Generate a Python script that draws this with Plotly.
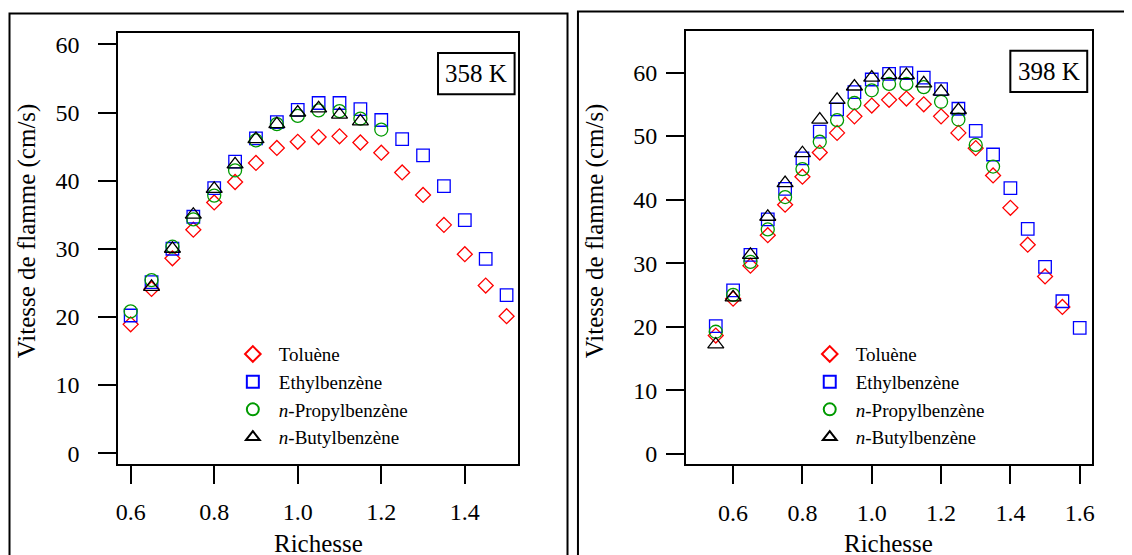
import plotly.graph_objects as go

# ---------------- data ----------------
phi_358 = [0.60, 0.65, 0.70, 0.75, 0.80, 0.85, 0.90, 0.95, 1.00, 1.05, 1.10, 1.15, 1.20, 1.25, 1.30, 1.35, 1.40, 1.45, 1.50]
tol_358 = [18.9, 24.1, 28.6, 32.8, 36.8, 39.8, 42.6, 44.8, 45.7, 46.4, 46.5, 45.6, 44.1, 41.2, 37.9, 33.5, 29.2, 24.6, 20.1]
eth_358 = [20.2, 25.1, 30.0, 34.7, 38.9, 42.8, 46.2, 48.6, 50.4, 51.4, 51.4, 50.5, 48.9, 46.1, 43.7, 39.2, 34.2, 28.5, 23.2]
phi_prop_358 = [0.60, 0.65, 0.70, 0.75, 0.80, 0.85, 0.90, 0.95, 1.00, 1.05, 1.10, 1.15, 1.20]
prop_358 = [20.8, 25.4, 30.3, 34.3, 37.8, 41.5, 45.9, 48.3, 49.5, 50.3, 50.2, 49.1, 47.5]
phi_but_358 = [0.65, 0.70, 0.75, 0.80, 0.85, 0.90, 0.95, 1.00, 1.05, 1.10, 1.15]
but_358 = [24.4, 30.0, 35.0, 38.8, 42.4, 46.1, 48.3, 50.0, 50.6, 49.7, 48.7]

phi_tol_398 = [0.55, 0.60, 0.65, 0.70, 0.75, 0.80, 0.85, 0.90, 0.95, 1.00, 1.05, 1.10, 1.15, 1.20, 1.25, 1.30, 1.35, 1.40, 1.45, 1.50, 1.55]
tol_398 = [18.6, 24.4, 29.6, 34.4, 39.2, 43.6, 47.4, 50.5, 53.1, 54.8, 55.7, 55.9, 55.0, 53.1, 50.5, 48.1, 43.8, 38.7, 32.9, 27.9, 23.1]
phi_eth_398 = [0.55, 0.60, 0.65, 0.70, 0.75, 0.80, 0.85, 0.90, 0.95, 1.00, 1.05, 1.10, 1.15, 1.20, 1.25, 1.30, 1.35, 1.40, 1.45, 1.50, 1.55, 1.60]
eth_398 = [20.1, 25.7, 31.3, 36.9, 41.7, 46.5, 50.7, 54.2, 56.9, 58.9, 59.8, 59.9, 59.2, 57.4, 54.3, 50.8, 47.1, 41.8, 35.4, 29.4, 24.0, 19.8]
phi_prop_398 = [0.55, 0.60, 0.65, 0.70, 0.75, 0.80, 0.85, 0.90, 0.95, 1.00, 1.05, 1.10, 1.15, 1.20, 1.25, 1.30, 1.35]
prop_398 = [19.2, 25.0, 30.2, 35.3, 40.4, 44.8, 49.1, 52.5, 55.2, 57.2, 58.2, 58.2, 57.7, 55.4, 52.6, 48.6, 45.2]
phi_but_398 = [0.55, 0.60, 0.65, 0.70, 0.75, 0.80, 0.85, 0.90, 0.95, 1.00, 1.05, 1.10, 1.15, 1.20, 1.25]
but_398 = [17.2, 24.6, 31.3, 37.3, 42.6, 47.3, 52.6, 55.7, 57.8, 59.2, 59.6, 59.6, 58.3, 57.0, 54.1]

series_names = ["Toluène", "Ethylbenzène", "<i>n</i>-Propylbenzène", "<i>n</i>-Butylbenzène"]
series_colors = ["#ff0000", "#0000ff", "#009a00", "#000000"]
series_symbols = ["diamond-open", "square-open", "circle-open", "triangle-up-open"]
series_sizes = [11.5, 12.5, 13, 14]

x_ticks_358 = [0.6, 0.8, 1.0, 1.2, 1.4]
x_ticks_398 = [0.6, 0.8, 1.0, 1.2, 1.4, 1.6]
y_ticks = [0, 10, 20, 30, 40, 50, 60]
temp_labels = ["358 K", "398 K"]
x_title = "Richesse"
y_title = "Vitesse de flamme (cm/s)"

# ---------------- layout helpers ----------------
# the page body has an 8 px margin, so the figure starts at (8, 8) in the window
OFF = 8
W, H = 1132 - OFF, 555 - OFF
FONT = "Liberation Serif, Times New Roman, serif"


def px(x):
    return (x - OFF) / W


def py(y):
    return 1 - (y - OFF) / H


fig = go.Figure()

panels = [
    dict(xs=[phi_358, phi_358, phi_prop_358, phi_but_358],
         ys=[tol_358, eth_358, prop_358, but_358], xa="x", ya="y", legend="legend"),
    dict(xs=[phi_tol_398, phi_eth_398, phi_prop_398, phi_but_398],
         ys=[tol_398, eth_398, prop_398, but_398], xa="x2", ya="y2", legend="legend2"),
]

for p in panels:
    for i in range(4):
        fig.add_trace(go.Scatter(
            x=p["xs"][i], y=p["ys"][i], mode="markers", name=series_names[i],
            xaxis=p["xa"], yaxis=p["ya"], legend=p["legend"],
            marker=dict(symbol=series_symbols[i], size=series_sizes[i], color=series_colors[i],
                        line=dict(width=1.3, color=series_colors[i])),
        ))

axis_common = dict(showline=True, linecolor="black", linewidth=2, mirror=True,
                   ticks="outside", ticklen=18, tickwidth=2, tickcolor="black",
                   showgrid=False, zeroline=False,
                   tickfont=dict(family=FONT, size=24, color="black"))

legend_common = dict(xanchor="left", yanchor="top", bgcolor="rgba(0,0,0,0)", borderwidth=0,
                     itemwidth=42, itemsizing="constant",
                     font=dict(family=FONT, size=19, color="black"))

fig.update_layout(
    width=W, height=H, autosize=False,
    margin=dict(l=0, r=0, t=0, b=0),
    paper_bgcolor="white", plot_bgcolor="white",
    font=dict(family=FONT, color="black"),
    xaxis=dict(domain=[px(116), px(518)], range=[0.5707, 1.528], anchor="y",
               tickvals=x_ticks_358, ticktext=[f"{v:.1f}" for v in x_ticks_358],
               ticklabelstandoff=8, **axis_common),
    yaxis=dict(domain=[py(466), py(32)], range=[-1.55, 61.7], anchor="x",
               tickvals=y_ticks, ticklabelstandoff=14, **axis_common),
    xaxis2=dict(domain=[px(686.7), px(1094.3)], range=[0.4643, 1.634], anchor="y2",
                tickvals=x_ticks_398, ticktext=[f"{v:.1f}" for v in x_ticks_398],
                ticklabelstandoff=8, **axis_common),
    yaxis2=dict(domain=[py(466.7), py(30)], range=[-1.67, 66.56], anchor="x2",
                tickvals=y_ticks, ticklabelstandoff=4, **axis_common),
    legend=dict(x=px(225), y=py(336.5), **legend_common),
    legend2=dict(x=px(805), y=py(336.5), **legend_common),
    showlegend=True,
)

# panel frames
fig.add_shape(type="rect", xref="paper", yref="paper",
              x0=px(6.5), x1=px(567.5), y0=py(565), y1=py(12.5),
              line=dict(color="black", width=2), fillcolor="rgba(0,0,0,0)")
fig.add_shape(type="rect", xref="paper", yref="paper",
              x0=px(578), x1=px(1145), y0=py(565), y1=py(10.5),
              line=dict(color="black", width=2), fillcolor="rgba(0,0,0,0)")

# temperature boxes
boxes = [(437.3, 514.3, 52.3, 94.0), (1012.7, 1090.0, 50.0, 91.7)]
for (x0, x1, y0, y1), lab in zip(boxes, temp_labels):
    fig.add_shape(type="rect", xref="paper", yref="paper",
                  x0=px(x0), x1=px(x1), y0=py(y1), y1=py(y0),
                  line=dict(color="black", width=2), fillcolor="white")
    fig.add_annotation(xref="paper", yref="paper", x=px((x0 + x1) / 2), y=py((y0 + y1) / 2),
                       text=lab, showarrow=False, xanchor="center", yanchor="middle",
                       font=dict(family=FONT, size=25, color="black"))

# axis titles
for cx in [316.7, 890.0]:
    fig.add_annotation(xref="paper", yref="paper", x=px(cx), y=py(546),
                       text=x_title, showarrow=False, xanchor="center", yanchor="middle",
                       font=dict(family=FONT, size=25, color="black"))
for cx in [24.0, 596.0]:
    fig.add_annotation(xref="paper", yref="paper", x=px(cx), y=py(231),
                       text=y_title, showarrow=False, textangle=-90,
                       xanchor="center", yanchor="middle",
                       font=dict(family=FONT, size=25, color="black"))

fig.write_html("out.html")
